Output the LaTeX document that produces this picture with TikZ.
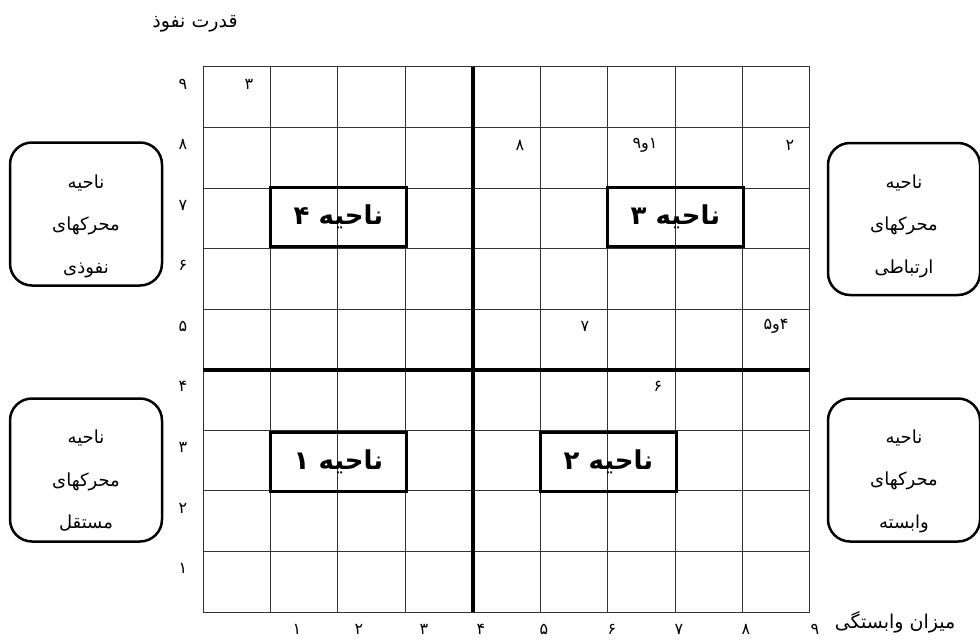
\documentclass[tikz,border=0pt]{standalone}
\usepackage{fontspec}
\usetikzlibrary{positioning}
\TeXXeTstate=1
\newfontfamily\farsi[Script=Arabic]{DejaVu Sans}
\newcommand{\rtl}[1]{\beginR #1\endR}
\definecolor{GridGray}{RGB}{50,50,50}
\begin{document}
\begin{tikzpicture}[x=1pt,y=-1pt,font=\farsi\fontsize{16}{18}\selectfont,
  cellnum/.style={inner sep=1pt},
  zonebox/.style={draw,line width=3pt,minimum width=136pt,minimum height=59pt,font=\farsi\bfseries\fontsize{26}{30}\selectfont},
  sidebox/.style={draw,line width=2.5pt,rounded corners=22pt,minimum width=152pt,minimum height=143pt},
  sidetext/.style={align=center,font=\farsi\fontsize{18}{42.5}\selectfont}]
\useasboundingbox (0,0) rectangle (980,642);
% grid
\foreach \i in {0,...,9} \draw[GridGray,line width=1pt] (203+\i*67.44,67) -- (203+\i*67.44,612);
\foreach \j in {0,...,9} \draw[GridGray,line width=1pt] (203,67+\j*60.56) -- (810,67+\j*60.56);
\draw[line width=3.5pt] (472.8,67) -- (472.8,612);\draw[line width=3.5pt] (203,369.8) -- (810,369.8);
% axes
\node (ytitle) at (195,24) {\fontsize{19}{22}\selectfont\rtl{قدرت نفوذ}};\node (xtitle) at (895,622) {\fontsize{19}{22}\selectfont\rtl{میزان وابستگی}};
\foreach \n [count=\k] in {۹,۸,۷,۶,۵,۴,۳,۲,۱} \node[cellnum] (y\k) at (183,84+\k*60.56-60.56) {\n};
\foreach \n/\x [count=\k] in {۱/297,۲/359,۳/424,۴/481,۵/544,۶/612,۷/679,۸/746,۹/815} \node[cellnum] (x\k) at (\x,629) {\n};
% entries
\node[cellnum] (e3) at (249,84) {۳};\node[cellnum] (e8) at (520,145) {۸};\node[cellnum] (e19) at (645,145) {\rtl{۱و۹}};\node[cellnum] (e2) at (790,145) {۲};
\node[cellnum] (e7) at (585,326) {۷};\node[cellnum] (e45) at (776,326) {\rtl{۴و۵}};\node[cellnum] (e6) at (658,386) {۶};
% zones
\node[zonebox] (z4) at (338.5,217) {\rtl{ناحیه ۴}};\node[zonebox] (z3) at (675.5,217) {\rtl{ناحیه ۳}};
\node[zonebox] (z1) at (338.5,462) {\rtl{ناحیه ۱}};\node[zonebox] (z2) at (608.5,462) {\rtl{ناحیه ۲}};
% side boxes
\node[sidebox] (s4) at (86,214) {};\node[sidetext] (t4) at (86,226) {\rtl{ناحیه}\\\rtl{محرکهای}\\\rtl{نفوذی}};
\node[sidebox,minimum height=152pt] (s3) at (904,219) {};\node[sidetext] (t3) at (904,226) {\rtl{ناحیه}\\\rtl{محرکهای}\\\rtl{ارتباطی}};
\node[sidebox] (s1) at (86,470) {};\node[sidetext] (t1) at (86,481) {\rtl{ناحیه}\\\rtl{محرکهای}\\\rtl{مستقل}};
\node[sidebox] (s2) at (904,470) {};\node[sidetext] (t2) at (904,481) {\rtl{ناحیه}\\\rtl{محرکهای}\\\rtl{وابسته}};
\end{tikzpicture}
\end{document}
